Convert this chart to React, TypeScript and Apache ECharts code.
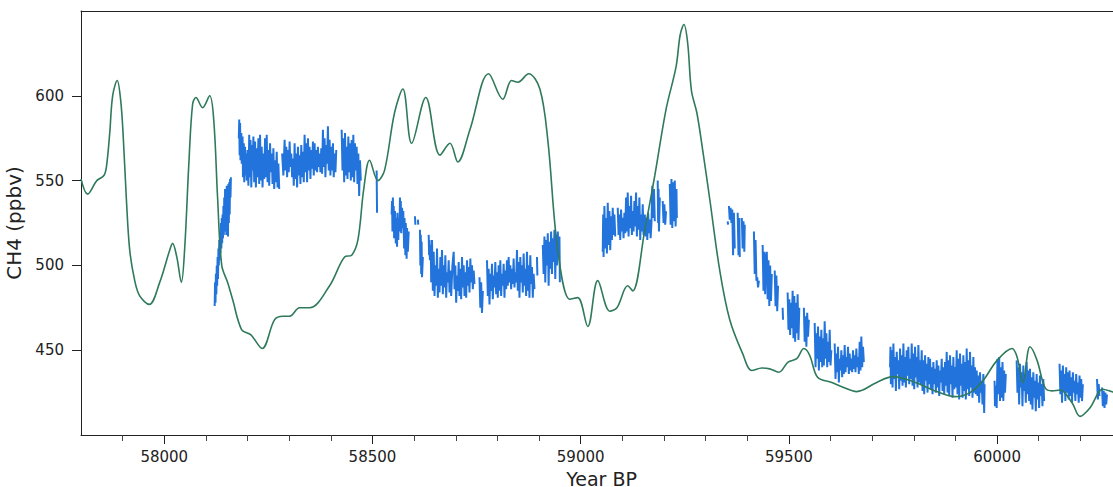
import React, { useEffect, useRef } from "react";
import * as echarts from "echarts";

// Smooth (modelled) CH4 curve
const greenYears = [57800, 57816, 57838, 57855, 57861, 57869, 57876, 57887, 57895, 57901, 57909, 57917, 57929, 57941, 57964, 57989, 58013, 58020, 58030, 58041, 58049, 58059, 58068, 58076, 58092, 58109, 58119, 58128, 58138, 58152, 58164, 58186, 58208, 58235, 58265, 58285, 58301, 58325, 58349, 58397, 58433, 58450, 58465, 58479, 58493, 58513, 58529, 58553, 58573, 58594, 58628, 58662, 58686, 58705, 58734, 58779, 58813, 58834, 58849, 58875, 58902, 58921, 58945, 58974, 58993, 59017, 59041, 59070, 59087, 59113, 59125, 59154, 59178, 59205, 59229, 59239, 59248, 59257, 59266, 59279, 59293, 59310, 59334, 59358, 59389, 59411, 59435, 59454, 59476, 59498, 59519, 59536, 59550, 59569, 59603, 59627, 59663, 59711, 59750, 59798, 59855, 59899, 59935, 59966, 60000, 60036, 60048, 60062, 60079, 60096, 60115, 60132, 60151, 60180, 60199, 60223, 60254, 60278, 60300];
const greenValues = [551, 542, 550, 553, 558, 578, 600, 609, 598, 578, 539, 509, 491, 482, 477, 490, 509, 513, 505, 490, 510, 560, 595, 599, 593, 600, 585, 540, 500, 490, 480, 462, 459, 451, 468, 470, 470, 475, 475, 488, 505, 506, 515, 545, 562, 550, 556, 590, 604, 572, 599, 565, 572, 561, 580, 613, 598, 609, 608, 613, 604, 574, 509, 480, 481, 464, 491, 473, 475, 488, 485, 521, 553, 592, 617, 636, 642, 631, 603, 590, 568, 539, 497, 468, 448, 438, 439.5, 439, 437, 443, 445, 451, 447, 434, 431, 428.5, 425.6, 431, 434.4, 431.5, 425.6, 422.6, 425, 432, 444, 451, 446, 431, 452, 444, 428, 426, 426.5, 419, 411, 416, 427, 425.4, 424];

// High-resolution ice-core measurements (null = gap)
const segA = [[58121, 476], [58122, 490], [58123, 478], [58124, 495], [58125, 483], [58126, 500], [58127, 488], [58128, 505], [58129, 492], [58130, 510], [58131, 500], [58132, 515], [58133, 503], [58134, 520], [58135, 507], [58136, 525], [58137, 510], [58138, 528], [58139, 513], [58140, 530], [58141, 516], [58142, 535], [58143, 518], [58144, 540], [58145, 520], [58146, 545], [58147, 522], [58148, 545], [58149, 518], [58150, 547], [58151, 520], [58152, 546], [58153, 517], [58154, 548], [58155, 525], [58156, 549], [58157, 530], [58158, 551], [58159, 540], [58160, 552]];

const segB = [[58179, 575], [58180, 586], [58181, 565], [58182, 584], [58183, 562], [58185, 578], [58186, 560], [58188, 576], [58189, 552], [58191, 572], [58192, 549], [58194, 570], [58195, 553], [58197, 566], [58198, 550], [58200, 568], [58202, 547], [58204, 577], [58205, 552], [58207, 574], [58209, 546], [58211, 571], [58212, 556], [58214, 576], [58216, 549], [58218, 573], [58220, 546], [58222, 569], [58224, 552], [58226, 575], [58228, 548], [58230, 577], [58232, 550], [58234, 570], [58236, 546], [58238, 566], [58240, 551], [58242, 575], [58244, 552], [58246, 577], [58248, 549], [58250, 568], [58252, 547], [58254, 572], [58256, 555], [58258, 566], [58260, 548], [58262, 569], [58264, 545], [58266, 562], [58268, 549], [58270, 567], [58272, 546], [58274, 560], [58276, 545], null, [58283, 566], [58286, 553], [58289, 574], [58291, 556], [58293, 570], [58295, 552], [58297, 568], [58299, 555], [58301, 573], [58303, 558], [58305, 566], [58307, 552], [58309, 563], [58311, 547], [58313, 572], [58315, 551], [58317, 566], [58319, 546], [58321, 570], [58323, 553], [58325, 565], [58327, 548], [58329, 571], [58331, 552], [58333, 567], [58335, 549], [58337, 577], [58339, 555], [58341, 572], [58343, 549], [58345, 575], [58347, 556], [58349, 570], [58351, 551], [58353, 568], [58355, 557], [58357, 573], [58359, 553], [58361, 572], [58363, 556], [58365, 568], [58367, 555], [58369, 570], [58371, 558], [58373, 566], [58375, 555], [58377, 569], [58379, 554], [58381, 580], [58383, 558], [58385, 575], [58387, 552], [58389, 571], [58391, 560], [58393, 582], [58395, 556], [58397, 574], [58399, 553], [58401, 570], [58403, 556], [58405, 572], [58407, 552], [58409, 566], [58411, 555], [58413, 568], null, [58426, 580], [58428, 556], [58430, 575], [58432, 549], [58434, 578], [58436, 553], [58438, 570], [58440, 551], [58442, 576], [58444, 555], [58446, 572], [58448, 550], [58450, 574], [58452, 552], [58454, 577], [58456, 549], [58458, 572], [58460, 556], [58462, 570], [58464, 548], [58466, 566], [58468, 541], [58470, 562], [58472, 550]];

const segC = [[58510, 556], [58511, 531]];

const segD = [[58546, 530], [58547, 538], [58548, 520], [58549, 540], [58550, 522], [58551, 535], [58552, 516], [58554, 532], [58556, 513], [58557, 528], [58559, 511], [58560, 531], [58562, 515], [58563, 526], [58565, 520], [58566, 540], [58567, 524], [58568, 538], [58569, 519], [58571, 534], [58573, 522], [58574, 532], [58576, 510], [58577, 528], [58579, 506], [58580, 525], [58582, 504], [58583, 522], [58585, 508], [58587, 520], null, [58602, 529], [58603, 524], null, [58609, 527], [58610, 524], null, [58614, 521], [58615, 500], [58616, 518], [58617, 495], [58618, 514], [58619, 493], [58621, 505], null, [58635, 518], [58636, 506], [58637, 515], [58638, 503], [58640, 512], [58641, 490], [58643, 515], [58645, 485], [58647, 508], [58649, 482], [58651, 500], [58653, 488], [58655, 510], [58657, 481], [58659, 498], [58661, 484], [58663, 505], [58665, 488], [58667, 509], [58669, 483], [58671, 500], [58673, 487], [58675, 506], [58677, 481], [58679, 496], [58681, 490], [58683, 503], [58685, 484], [58687, 497], [58689, 482], [58692, 500], [58695, 508], [58697, 486], [58699, 500], [58701, 478], [58703, 494], [58705, 485], [58707, 502], [58709, 482], [58711, 498], [58713, 480], [58715, 505], [58717, 487], [58719, 500], [58721, 482], [58723, 496], [58725, 481], [58727, 503], [58729, 488], [58731, 499], [58733, 484], [58735, 504], [58737, 490], [58739, 500], [58741, 486], [58743, 497], [58745, 489], null, [58757, 493], [58759, 475], [58761, 490], [58763, 472], [58765, 485], null, [58775, 503], [58777, 482], [58779, 498], [58781, 477], [58783, 495], [58785, 485], [58787, 501], [58789, 480], [58791, 494], [58793, 487], [58795, 502], [58797, 483], [58799, 496], [58801, 481], [58803, 500], [58805, 485], [58807, 503], [58809, 482], [58811, 495], [58813, 488], [58815, 501], [58817, 481], [58819, 497], [58821, 486], [58823, 503], [58825, 488], [58827, 505], [58829, 490], [58831, 500], [58833, 486], [58835, 498], [58837, 489], [58839, 504], [58841, 487], [58843, 496], [58845, 490], [58847, 509], [58849, 485], [58851, 502], [58853, 481], [58855, 505], [58857, 490], [58859, 500], [58861, 484], [58863, 507], [58865, 488], [58867, 498], [58869, 482], [58871, 508], [58873, 485], [58875, 500], [58877, 481], [58879, 506], [58881, 489], [58883, 499], [58885, 481], [58887, 495], [58889, 486], null, [58895, 505], [58896, 494], null, [58909, 512], [58911, 495], [58913, 517], [58915, 490], [58917, 515], [58919, 500], [58921, 519], [58923, 488], [58925, 514], [58927, 498], [58929, 520], [58931, 495], [58933, 516], [58935, 502], [58937, 521], [58939, 492], [58941, 518], [58943, 500], [58945, 520], [58947, 505], [58949, 517], [58950, 490]];

const segE = [[59053, 508], [59054, 530], [59055, 505], [59057, 535], [59059, 510], [59061, 528], [59063, 507], [59065, 537], [59067, 512], [59069, 532], [59071, 509], [59073, 529], [59075, 515], [59077, 534], [59079, 518], [59081, 530], [59083, 517], null, [59089, 534], [59091, 518], [59093, 530], [59095, 515], [59097, 533], [59099, 520], [59101, 528], [59103, 516], [59105, 531], [59107, 519], [59109, 540], [59111, 520], [59113, 543], [59115, 517], [59117, 535], [59119, 522], [59121, 541], [59123, 518], [59125, 532], [59127, 520], [59129, 538], [59131, 523], [59133, 543], [59135, 517], [59137, 535], [59139, 521], [59141, 540], [59143, 515], [59145, 530], [59147, 520], [59149, 536], [59151, 518], null, [59154, 530], [59156, 517], [59158, 528], [59160, 515], [59162, 531], [59164, 519], [59166, 527], [59168, 516], [59170, 525], [59172, 547], [59174, 528], [59176, 545], [59178, 526], null, [59185, 550], [59186, 525], [59187, 545], [59188, 520], [59190, 540], null, [59197, 538], [59199, 525], [59201, 536], [59203, 524], [59205, 532], null, [59214, 548], [59216, 524], [59218, 551], [59220, 522], [59222, 549], [59224, 526], [59226, 550], [59228, 523], [59230, 545], [59231, 528]];

const segF = [[59353, 526], [59354, 524], null, [59356, 535], [59358, 527], [59360, 534], [59362, 525], [59364, 533], [59366, 506], [59368, 531], [59370, 510], null, [59377, 531], [59379, 506], [59381, 528], [59382, 505], null, [59387, 528], [59389, 510], [59391, 526], [59393, 508], [59394, 524], null, [59416, 520], [59418, 495], [59420, 515], [59422, 491], [59424, 493], [59426, 487], [59428, 491], null, [59437, 512], [59439, 485], [59441, 508], [59443, 483], [59445, 505], [59447, 508], [59449, 480], [59451, 503], [59453, 476], [59455, 500], [59457, 479], [59459, 495], null, [59466, 497], [59468, 476], [59470, 494], [59472, 473], [59474, 488], null, [59485, 475], [59486, 468], null, [59497, 484], [59499, 462], [59501, 480], [59503, 459], [59505, 478], [59507, 463], [59509, 485], [59511, 457], [59513, 482], [59515, 455], [59517, 478], [59519, 460], [59521, 483], [59523, 456], [59525, 475], null, [59536, 475], [59538, 455], [59540, 470], [59542, 452], [59544, 472], [59546, 458], [59548, 468], null, [59562, 466], [59564, 440], [59566, 460], [59568, 445], [59570, 464], [59572, 438], [59574, 458], [59576, 443], [59578, 462], [59580, 440], [59582, 457], [59584, 441], [59586, 467], [59588, 445], [59590, 460], [59592, 440], [59594, 455], [59596, 443], [59598, 462], [59600, 441], [59602, 450], null, [59610, 454], [59612, 433], [59614, 448], [59616, 437], [59618, 452], [59620, 431], [59622, 445], [59624, 438], [59626, 450], [59628, 434], [59630, 447], [59632, 436], [59634, 453], [59636, 437], [59638, 446], [59640, 440], [59642, 452], [59644, 436], [59646, 448], [59648, 438], [59650, 445], [59652, 437], [59654, 450], [59656, 439], [59658, 447], [59660, 437], [59662, 451], [59664, 440], [59666, 446], [59668, 436], [59670, 455], [59672, 438], [59674, 458], [59676, 440], [59678, 452], [59680, 443]];

const segG = [[59743, 440], [59744, 452], [59745, 430], [59747, 450], [59749, 428], [59751, 454], [59753, 433], [59755, 446], [59757, 426], [59759, 449], [59761, 436], [59763, 444], [59765, 427], [59767, 451], [59769, 432], [59771, 447], [59773, 429], [59775, 454], [59777, 431], [59779, 446], [59781, 428], [59783, 450], [59785, 435], [59787, 452], [59789, 430], [59791, 445], [59793, 433], [59795, 454], [59797, 429], [59799, 448], [59801, 427], [59803, 452], [59805, 434], [59807, 446], [59809, 428], [59811, 453], [59813, 431], [59815, 444], [59817, 430], [59819, 450], [59821, 426], [59823, 444], [59825, 424], [59827, 447], [59829, 432], [59831, 442], [59833, 425], [59835, 446], [59837, 430], [59839, 445], [59841, 427], [59843, 440], [59845, 424], [59847, 443], [59849, 430], [59851, 439], [59853, 425], [59855, 444], [59857, 428], [59859, 441], [59861, 423], [59863, 438], [59865, 431], [59867, 445], [59869, 426], [59871, 440], [59873, 424], [59875, 443], [59877, 429], [59879, 449], [59881, 425], [59883, 444], [59885, 423], [59887, 447], [59889, 430], [59891, 441], [59893, 422], [59895, 446], [59897, 427], [59899, 440], [59901, 428], [59903, 450], [59905, 424], [59907, 445], [59909, 421], [59911, 448], [59913, 429], [59915, 442], [59917, 422], [59919, 447], [59921, 426], [59923, 443], [59925, 421], [59927, 451], [59929, 427], [59931, 444], [59933, 423], [59935, 449], [59937, 428], [59939, 441], [59941, 422], [59943, 446], [59945, 425], [59947, 440], [59949, 424], [59951, 438], [59953, 423], [59955, 435], [59957, 419], [59959, 437], [59961, 425], [59963, 432], [59965, 418], [59967, 436], [59969, 413], [59970, 430], null, [59994, 432], [59995, 417], [59997, 429], [59999, 416], [60001, 445], [60003, 424], [60005, 446], [60007, 420], [60009, 440], [60011, 422], [60013, 443], [60015, 420], [60017, 438], [60019, 425], [60021, 436], null, [60047, 444], [60049, 425], [60051, 440], [60053, 418], [60055, 442], [60057, 428], [60059, 437], [60061, 417], [60063, 441], [60065, 426], [60067, 436], [60069, 419], [60071, 443], [60073, 424], [60075, 438], [60077, 420], [60079, 439], [60081, 418], [60083, 434], [60085, 415], [60087, 437], [60089, 422], [60091, 432], [60093, 414], [60095, 436], [60097, 421], [60099, 431], [60101, 416], [60103, 435], [60105, 423], [60107, 430], [60109, 417], [60111, 433], [60113, 420], null, [60150, 442], [60152, 424], [60154, 438], [60156, 419], [60158, 441], [60160, 426], [60162, 436], [60164, 420], [60166, 440], [60168, 425], [60170, 437], [60172, 421], [60174, 438], [60176, 423], [60178, 434], [60180, 419], [60182, 437], [60184, 425], [60186, 432], [60188, 420], [60190, 436], [60192, 424], [60194, 431], [60196, 419], [60198, 435], [60200, 422], [60202, 433], [60204, 420], [60206, 430], null, [60240, 433], [60242, 421], [60244, 430], [60246, 423], null, [60252, 428], [60254, 417], [60256, 426], [60258, 416], [60260, 425], [60262, 418], [60264, 424]];

const blueSegments = [segA, segB, segC, segD, segE, segF, segG];

const xMajorTicks = [58000, 58500, 59000, 59500, 60000];
const xMinorTicks = [57900, 58000, 58100, 58200, 58300, 58400, 58500, 58600, 58700, 58800, 58900, 59000, 59100, 59200, 59300, 59400, 59500, 59600, 59700, 59800, 59900, 60000, 60100, 60200];
const yTicks = [450, 500, 550, 600];

const X_MIN = 57800;
const X_MAX = 60300;
const Y_MIN = 400;
const Y_MAX = 650;

const FONT = "DejaVu Sans";
const INK = "#222222";
const GREEN = "#2f7a5b";
const BLUE = "#2274dc";

export default function App() {
  const ref = useRef<HTMLDivElement>(null);

  useEffect(() => {
    if (!ref.current) return;
    const chart = echarts.init(ref.current, undefined, { renderer: "svg" });
    const gridBox = {
      left: 81,
      top: 11,
      width: 1041,
      height: 424,
      containLabel: false,
      outerBoundsMode: "none",
    };
    const plain = (v: number) => String(v);

    const blueSeries = blueSegments.map((seg, i) => ({
      type: "line",
      name: "measured" + i,
      xAxisIndex: 0,
      yAxisIndex: 0,
      showSymbol: false,
      symbol: "none",
      connectNulls: false,
      lineStyle: { color: BLUE, width: 2 },
      z: 2,
      data: seg.map((p) => (p === null ? ["-", "-"] : p)),
    }));

    chart.setOption({
      animation: false,
      backgroundColor: "#ffffff",
      grid: [{ ...gridBox }, { ...gridBox }],
      xAxis: [
        {
          type: "value",
          gridIndex: 0,
          position: "bottom",
          min: X_MIN,
          max: X_MAX,
          axisLine: { show: true, lineStyle: { color: INK, width: 1 } },
          axisTick: {
            show: true,
            customValues: xMinorTicks,
            length: 6,
            lineStyle: { color: "#444", width: 1 },
          },
          axisLabel: { show: false },
          splitLine: { show: false },
        },
        {
          type: "value",
          gridIndex: 0,
          position: "top",
          min: X_MIN,
          max: X_MAX,
          axisLine: { show: true, lineStyle: { color: INK, width: 1 } },
          axisTick: { show: false },
          axisLabel: { show: false },
          splitLine: { show: false },
        },
        {
          type: "value",
          gridIndex: 1,
          position: "bottom",
          min: X_MIN,
          max: X_MAX,
          axisLine: { show: false },
          axisTick: {
            show: true,
            customValues: xMajorTicks,
            length: 9,
            lineStyle: { color: INK, width: 1 },
          },
          axisLabel: {
            show: true,
            customValues: xMajorTicks,
            formatter: plain,
            fontFamily: FONT,
            fontSize: 15,
            color: INK,
            margin: 14,
          },
          splitLine: { show: false },
          name: "Year BP",
          nameLocation: "middle",
          nameGap: 27,
          nameTextStyle: { fontFamily: FONT, fontSize: 19, color: INK, lineHeight: 20 },
        },
      ],
      yAxis: [
        {
          type: "value",
          gridIndex: 0,
          min: Y_MIN,
          max: Y_MAX,
          axisLine: { show: true, lineStyle: { color: INK, width: 1 } },
          axisTick: {
            show: true,
            customValues: yTicks,
            length: 9,
            lineStyle: { color: INK, width: 1 },
          },
          axisLabel: {
            show: true,
            customValues: yTicks,
            formatter: plain,
            fontFamily: FONT,
            fontSize: 15,
            color: INK,
            margin: 17,
          },
          splitLine: { show: false },
          name: "CH4 (ppbv)",
          nameLocation: "middle",
          nameGap: 48,
          nameTextStyle: { fontFamily: FONT, fontSize: 20, color: INK },
        },
        {
          type: "value",
          gridIndex: 1,
          min: Y_MIN,
          max: Y_MAX,
          show: false,
        },
      ],
      series: [
        ...blueSeries,
        {
          type: "line",
          name: "modelled",
          xAxisIndex: 0,
          yAxisIndex: 0,
          showSymbol: false,
          symbol: "none",
          smooth: 0.35,
          lineStyle: { color: GREEN, width: 1.6 },
          z: 3,
          data: greenYears.map((y, i) => [y, greenValues[i]]),
        },
      ],
    });

    return () => chart.dispose();
  }, []);

  return (
    <div
      style={{
        position: "absolute",
        left: 0,
        top: 0,
        width: 1113,
        height: 487,
        overflow: "hidden",
        background: "#fff",
      }}
    >
      <div ref={ref} style={{ width: 1140, height: 487 }} />
    </div>
  );
}
